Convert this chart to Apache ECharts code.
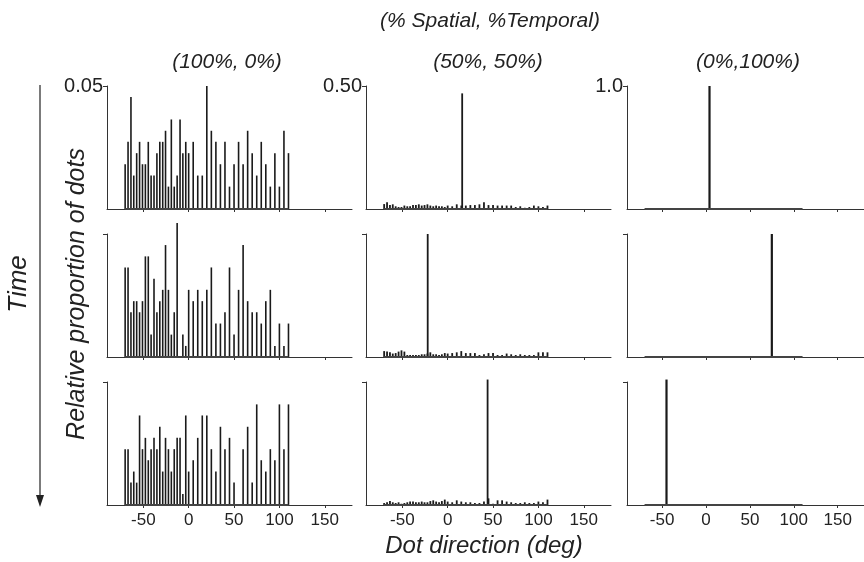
<!DOCTYPE html>
<html><head><meta charset="utf-8">
<script src="https://cdn.jsdelivr.net/npm/echarts@6/dist/echarts.min.js"></script>
<style>html,body{margin:0;padding:0;background:#fff}#c{width:864px;height:562px}</style>
</head><body><div id="c"></div>
<script>
// Dot directions (deg) of the histogram bins
const directions = [-70,-66.8,-63.6,-60.5,-57.3,-54.1,-50.9,-47.7,-44.5,-41.4,-38.2,-35,-31.8,-28.6,-25.5,-22.3,-19.1,-15.9,-12.7,-9.5,-6.4,-3.2,0,
  5,10,15,20,25,30,35,40,45,50,55,60,65,70,75,80,85,90,95,100,105,110];

// (100%, 0%) column: relative proportion of dots per direction, three time steps
const spatial100Row1 = [0.0182,0.0273,0.0455,0.0136,0.0227,0.0273,0.0182,0.0182,0.0273,0.0136,0.0136,0.0227,0.0273,0.0273,0.0318,0.0091,0.0364,0.0091,0.0136,0.0364,0.0227,0.0273,0.0227,
  0.0273,0.0136,0.0136,0.05,0.0318,0.0273,0.0182,0.0273,0.0091,0.0182,0.0273,0.0182,0.0318,0.0227,0.0136,0.0273,0.0182,0.0091,0.0227,0.0091,0.0318,0.0227];
const spatial100Row2 = [0.0364,0.0364,0.0182,0.0227,0.0227,0.0182,0.0227,0.0409,0.0409,0.0091,0.0318,0.0182,0.0227,0.0273,0.0455,0.0273,0.0091,0.0182,0.0545,0,0.0091,0.0045,0.0273,
  0.0227,0.0273,0.0227,0.0273,0.0364,0.0136,0.0136,0.0182,0.0364,0.0091,0.0273,0.0455,0.0227,0.0182,0.0182,0.0136,0.0227,0.0273,0.0045,0.0136,0.0045,0.0136];
const spatial100Row3 = [0.0227,0.0227,0.0091,0.0136,0.0091,0.0364,0.0227,0.0273,0.0182,0.0227,0.0273,0.0227,0.0318,0.0136,0.0273,0.0227,0.0136,0.0227,0.0273,0.0273,0.0045,0.0364,0.0136,
  0.0182,0.0273,0.0364,0.0364,0.0227,0.0136,0.0318,0.0227,0.0273,0.0091,0,0.0227,0.0318,0.0091,0.0409,0.0182,0.0136,0.0227,0.0182,0.0409,0.0227,0.0409];

// (50%, 50%) column: spread part plus one coherent direction
const mixedRow1 = [0.020,0.027,0.016,0.019,0.011,0.008,0.008,0.014,0.011,0.011,0.016,0.016,0.019,0.014,0.016,0.019,0.014,0.011,0.014,0.011,0.011,0.008,0.014,
  0.011,0.019,0.014,0.014,0.016,0.016,0.019,0.027,0.016,0.016,0.014,0.014,0.014,0.014,0.008,0.011,0.005,0.008,0.014,0.011,0.008,0.014];
const mixedRow2 = [0.024,0.022,0.019,0.014,0.016,0.022,0.027,0.022,0.008,0.008,0.008,0.008,0.008,0.011,0.011,0.014,0.019,0.011,0.011,0.008,0.011,0.016,0.014,
  0.016,0.019,0.024,0.016,0.016,0.016,0.008,0.011,0.016,0.016,0.008,0.008,0.014,0.011,0.008,0.011,0.008,0.008,0.008,0.019,0.019,0.019];
const mixedRow3 = [0.008,0.011,0.016,0.011,0.008,0.011,0.005,0.008,0.011,0.014,0.014,0.011,0.011,0.014,0.011,0.011,0.016,0.019,0.014,0.011,0.016,0.022,0.014,
  0.011,0.019,0.014,0.011,0.011,0.008,0.008,0.014,0.027,0.005,0.019,0.019,0.014,0.011,0.008,0.008,0.011,0.008,0.008,0.014,0.011,0.022];
const mixedPeakDirection = [16, -22, 44];
const mixedPeakValue = [0.47, 0.50, 0.51];

// (0%,100%) column: all dots in one direction
const temporalPeakDirection = [4, 75, -45];
const temporalPeakValue = [1.0, 1.0, 1.02];

// Axis settings / labels
const yMax = [0.05, 0.5, 1.0];
const yTickLabels = ['0.05', '0.50', '1.0'];
const xTickValues = [-50, 0, 50, 100, 150];
const columnTitles = ['(100%, 0%)', '(50%, 50%)', '(0%,100%)'];
const headerText = '(% Spatial, %Temporal)';
const timeText = 'Time';
const yAxisTitle = 'Relative proportion of dots';
const xAxisTitle = 'Dot direction (deg)';

const colLeft = [107, 366, 627];
const rowTop = [86, 234, 382];
const gw = 245, gh = 123;
const FONT = '"Liberation Sans", Arial, Helvetica, sans-serif';
const INK = '#1a1a1a';

const grids = [], xAxes = [], yAxes = [], series = [];
const spatialRows = [spatial100Row1, spatial100Row2, spatial100Row3];
const mixedRows = [mixedRow1, mixedRow2, mixedRow3];

for (let r = 0; r < 3; r++) {
  for (let c = 0; c < 3; c++) {
    const i = r * 3 + c;
    grids.push({left: colLeft[c], top: rowTop[r], width: gw, height: gh, containLabel: false});
    xAxes.push({
      gridIndex: i, type: 'value', min: -90, max: 180,
      axisLine: {show: true, onZero: false, lineStyle: {color: '#333', width: 1}},
      axisTick: {show: true, customValues: xTickValues, length: 3, lineStyle: {color: '#333'}},
      axisLabel: {show: r === 2, customValues: xTickValues, fontSize: 17, color: '#222', margin: 7, fontFamily: FONT},
      splitLine: {show: false}
    });
    yAxes.push({
      gridIndex: i, type: 'value', min: 0, max: yMax[c],
      axisLine: {show: true, onZero: false, lineStyle: {color: '#333', width: 1}},
      axisTick: {show: true, customValues: [yMax[c]], length: 4, lineStyle: {color: '#333'}},
      axisLabel: {show: r === 0, customValues: [yMax[c]], formatter: () => yTickLabels[c],
        fontSize: 20, color: '#222', margin: 4, fontFamily: FONT},
      splitLine: {show: false}
    });
    let data, bw = 1.6;
    if (c === 0) {
      data = directions.map((d, k) => [d, spatialRows[r][k]]);
    } else if (c === 1) {
      data = directions.map((d, k) => [d, mixedRows[r][k]]).concat([[mixedPeakDirection[r], mixedPeakValue[r]]]);
      bw = 1.8;
    } else {
      data = [[temporalPeakDirection[r], temporalPeakValue[r]]];
      bw = 2.2;
    }
    series.push({
      type: 'bar', xAxisIndex: i, yAxisIndex: i, data: data, barWidth: bw,
      itemStyle: {color: INK}, clip: false, silent: true
    });
    series.push({
      type: 'line', xAxisIndex: i, yAxisIndex: i, symbol: 'none', silent: true,
      data: [[directions[0], 0], [directions[directions.length - 1], 0]],
      lineStyle: {color: '#444', width: 2}
    });
  }
}

const graphic = [
  {type: 'text', x: 490, y: 21, style: {text: headerText, font: 'italic 21px ' + FONT, fill: '#222', align: 'center', verticalAlign: 'middle'}},
  {type: 'text', x: 19, y: 284, rotation: Math.PI / 2, style: {text: timeText, font: 'italic 26px ' + FONT, fill: '#222', align: 'center', verticalAlign: 'middle'}},
  {type: 'text', x: 77, y: 294, rotation: Math.PI / 2, style: {text: yAxisTitle, font: 'italic 25px ' + FONT, fill: '#222', align: 'center', verticalAlign: 'middle'}},
  {type: 'text', x: 484, y: 546, style: {text: xAxisTitle, font: 'italic 24px ' + FONT, fill: '#222', align: 'center', verticalAlign: 'middle'}},
  {type: 'line', shape: {x1: 40, y1: 85, x2: 40, y2: 500}, style: {stroke: '#222', lineWidth: 1.2}},
  {type: 'polygon', shape: {points: [[40, 507], [36, 495], [44, 495]]}, style: {fill: '#222'}}
];
const titleCenters = [227, 488, 748];
for (let c = 0; c < 3; c++) {
  graphic.push({type: 'text', x: titleCenters[c], y: 62, style: {text: columnTitles[c], font: 'italic 21px ' + FONT, fill: '#222', align: 'center', verticalAlign: 'middle'}});
}

const chart = echarts.init(document.getElementById('c'), null, {renderer: 'canvas'});
chart.setOption({
  animation: false,
  backgroundColor: '#fff',
  grid: grids, xAxis: xAxes, yAxis: yAxes, series: series, graphic: graphic
});
</script>
</body></html>
